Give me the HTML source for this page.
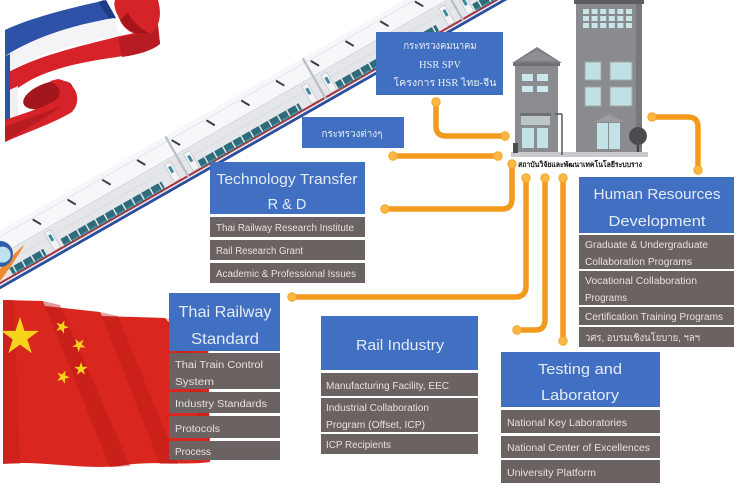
<!DOCTYPE html>
<html><head><meta charset="utf-8"><style>
html,body{margin:0;padding:0;background:#fff;}
svg{display:block;}
text{font-family:"Liberation Sans","DejaVu Sans",sans-serif;}
.t{fill:#e4ebf6;text-anchor:middle;}
.r{fill:#e6e2e0;font-size:10px;}
.th{font-family:"Liberation Serif","DejaVu Serif",serif;fill:#e8eef8;text-anchor:middle;font-size:10px;}
</style></head><body>
<svg width="740" height="493" viewBox="0 0 740 493" xmlns="http://www.w3.org/2000/svg">
<defs>
<pattern id="win" width="10.5" height="8" patternUnits="userSpaceOnUse"><rect x="0" y="0" width="9" height="8" fill="#2e6b7b"/><rect x="1" y="1" width="7" height="2" fill="#4a8d9c"/></pattern>
</defs>
<rect width="740" height="493" fill="#fff"/>

<!-- TRAIN -->
<g transform="translate(20,277) rotate(-29.7)">
  <path d="M-70,-50 H600 V-2 H-70 Z" fill="#eceef1"/>
  <rect x="-70" y="-50" width="670" height="21" fill="#f6f7f9"/>
  <line x1="-70" y1="-45" x2="600" y2="-45" stroke="#e2e5e9" stroke-width="1"/>
  <line x1="-70" y1="-29" x2="600" y2="-29" stroke="#d3d6db" stroke-width="1"/>
  <rect x="-70" y="-28" width="670" height="24" fill="#e4e6ea"/>
  <line x1="-70" y1="-20" x2="600" y2="-20" stroke="#d8dbe0" stroke-width="0.8"/>
  <rect x="-70" y="-5.5" width="670" height="2" fill="#a8323c"/>
  <rect x="-70" y="-2" width="670" height="2.8" fill="#2b4f9e"/>
  <rect x="-5" y="-13" width="39" height="8" fill="url(#win)"/>
  <rect x="54" y="-13" width="116" height="8" fill="url(#win)"/>
  <rect x="212" y="-13" width="116" height="8" fill="url(#win)"/>
  <rect x="370" y="-13" width="116" height="8" fill="url(#win)"/>
  <rect x="528" y="-13" width="70" height="8" fill="url(#win)"/>
  <g fill="#f3f4f6" stroke="#c4c8ce" stroke-width="0.8">
    <rect x="43" y="-26" width="7" height="20"/><rect x="181" y="-26" width="7" height="20"/>
    <rect x="203" y="-26" width="7" height="20"/><rect x="339" y="-26" width="7" height="20"/>
    <rect x="361" y="-26" width="7" height="20"/><rect x="497" y="-26" width="7" height="20"/>
    <rect x="519" y="-26" width="7" height="20"/>
  </g>
  <g fill="#3d8aa0">
    <rect x="45" y="-22" width="3" height="7"/><rect x="183" y="-22" width="3" height="7"/>
    <rect x="205" y="-22" width="3" height="7"/><rect x="341" y="-22" width="3" height="7"/>
    <rect x="363" y="-22" width="3" height="7"/><rect x="499" y="-22" width="3" height="7"/>
    <rect x="521" y="-22" width="3" height="7"/>
  </g>
  <g stroke="#b9bec5" stroke-width="2.2">
    <line x1="196" y1="-50" x2="196" y2="-3"/><line x1="354" y1="-50" x2="354" y2="-3"/><line x1="512" y1="-50" x2="512" y2="-3"/>
  </g>
  <g stroke="#3a3f45" stroke-width="2" stroke-linecap="round">
    <line x1="40" y1="-43" x2="44" y2="-36"/><line x1="80" y1="-43" x2="84" y2="-36"/>
    <line x1="120" y1="-43" x2="124" y2="-36"/><line x1="160" y1="-43" x2="164" y2="-36"/>
    <line x1="200" y1="-43" x2="204" y2="-36"/><line x1="240" y1="-43" x2="244" y2="-36"/>
    <line x1="280" y1="-43" x2="284" y2="-36"/><line x1="320" y1="-43" x2="324" y2="-36"/>
    <line x1="360" y1="-43" x2="364" y2="-36"/><line x1="400" y1="-43" x2="404" y2="-36"/>
    <line x1="440" y1="-43" x2="444" y2="-36"/><line x1="480" y1="-43" x2="484" y2="-36"/>
    <line x1="520" y1="-43" x2="524" y2="-36"/><line x1="560" y1="-43" x2="564" y2="-36"/>
  </g>
  <path d="M-40,-6 Q-10,-20 20,-26 Q0,-14 -30,-2 Z" fill="#f08a2c"/>
  <circle cx="-6" cy="-30" r="13" fill="#2f5fa8"/>
  <circle cx="-4" cy="-28" r="8" fill="#bfe2ee"/>
</g>

<!-- THAI FLAG RIBBON -->
<g>
  <path d="M5,30 C30,18 70,8 98,2 L104,0 L114,18 C80,24 40,34 5,56 Z" fill="#2d52a8"/>
  <path d="M98,2 L106,0 L116,18 L110,20 Z" fill="#1e3c86"/>
  <path d="M5,56 C40,34 80,24 114,18 L120,36 C80,42 40,52 5,74 Z" fill="#f4f4f6"/>
  <path d="M5,74 C40,54 90,44 120,36 C135,33 150,30 158,24 L160,44 C150,52 130,55 110,58 C70,64 40,72 18,88 L5,96 Z" fill="#d6232a"/>
  <path d="M118,38 C135,34 150,32 158,26 L160,44 C150,52 135,55 122,57 Z" fill="#b71c22"/>
  <path d="M115,0 L158,0 C162,14 160,28 150,34 C136,38 124,30 120,20 C116,12 113,6 115,0 Z" fill="#d42329"/>
  <path d="M120,20 C126,30 136,36 150,34 C140,28 132,22 128,12 Z" fill="#a5151b"/>
  <path d="M5,92 L18,86 L18,124 L5,128 Z" fill="#f0f0f2"/>
  <path d="M5,56 L10,54 L10,126 L5,128 Z" fill="#2d52a8"/>
  <ellipse cx="48" cy="95" rx="26" ry="12" transform="rotate(-20 48 95)" fill="#a3161c"/>
  <path d="M58,79 C78,83 82,101 72,112 C52,124 27,132 5,142 L5,120 C25,113 45,107 56,100 C63,94 60,86 50,81 Z" fill="#d6232a"/>
  <path d="M5,127 C25,119 45,113 62,105 C50,117 27,127 5,142 Z" fill="#b81c22"/>
</g>

<!-- CHINA FLAG -->
<g>
  <path d="M3,300 L43,301 L45,306 L100,312 L102,316 L165,318 L168,322 L208,322 L210,462 C180,466 150,460 120,466 C80,470 40,460 3,464 Z" fill="#d9261e"/>
  <path d="M43,301 L60,305 L130,466 L110,467 Z" fill="#b81a17" opacity="0.45"/>
  <path d="M100,312 L118,316 L178,464 L160,464 Z" fill="#b81a17" opacity="0.4"/>
  <path d="M165,318 L180,322 L210,420 L210,450 Z" fill="#b81a17" opacity="0.35"/>
  <path d="M3,300 L14,300 L20,464 L3,464 Z" fill="#c21d19" opacity="0.4"/>
  <g fill="#f8d31c">
    <polygon transform="translate(20,337) scale(20)" points="0,-1 0.2245,-0.309 0.951,-0.309 0.363,0.118 0.588,0.809 0,0.382 -0.588,0.809 -0.363,0.118 -0.951,-0.309 -0.2245,-0.309"/>
    <polygon transform="translate(62,327) scale(7) rotate(20)" points="0,-1 0.2245,-0.309 0.951,-0.309 0.363,0.118 0.588,0.809 0,0.382 -0.588,0.809 -0.363,0.118 -0.951,-0.309 -0.2245,-0.309"/>
    <polygon transform="translate(79,345) scale(7) rotate(40)" points="0,-1 0.2245,-0.309 0.951,-0.309 0.363,0.118 0.588,0.809 0,0.382 -0.588,0.809 -0.363,0.118 -0.951,-0.309 -0.2245,-0.309"/>
    <polygon transform="translate(81,369) scale(7)" points="0,-1 0.2245,-0.309 0.951,-0.309 0.363,0.118 0.588,0.809 0,0.382 -0.588,0.809 -0.363,0.118 -0.951,-0.309 -0.2245,-0.309"/>
    <polygon transform="translate(63,377) scale(7) rotate(20)" points="0,-1 0.2245,-0.309 0.951,-0.309 0.363,0.118 0.588,0.809 0,0.382 -0.588,0.809 -0.363,0.118 -0.951,-0.309 -0.2245,-0.309"/>
  </g>
</g>

<!-- BUILDINGS -->
<g>
  <polygon points="512,63 537,47 562,63" fill="#7c7d81"/>
  <polygon points="517,61 537,50 557,61" fill="#8e8f93"/>
  <rect x="515" y="63" width="43" height="89" fill="#8b8c90"/>
  <rect x="513" y="63" width="47" height="3" fill="#6f7074"/>
  <g fill="#cde8ec"><rect x="522" y="74" width="11" height="7"/><rect x="537" y="74" width="11" height="7"/><rect x="522" y="86" width="11" height="6"/><rect x="537" y="86" width="11" height="6"/></g>
  <rect x="520" y="113" width="31" height="3" fill="#6f7074"/>
  <rect x="521" y="116" width="29" height="9" fill="#bcc6c9"/>
  <g fill="#c3e2e6"><rect x="522" y="128" width="12" height="20"/><rect x="537" y="128" width="11" height="20"/></g>
  <rect x="576" y="0" width="66" height="152" fill="#8a8b8f"/>
  <rect x="636" y="0" width="6" height="152" fill="#77787c"/>
  <rect x="574" y="0" width="70" height="4" fill="#5c5d61"/>
  <g fill="#c8e6ea">
    <rect x="583" y="9" width="6" height="5"/><rect x="591.6" y="9" width="6" height="5"/><rect x="600.2" y="9" width="6" height="5"/><rect x="608.8" y="9" width="6" height="5"/><rect x="617.4" y="9" width="6" height="5"/><rect x="626" y="9" width="6" height="5"/>
    <rect x="583" y="16" width="6" height="5"/><rect x="591.6" y="16" width="6" height="5"/><rect x="600.2" y="16" width="6" height="5"/><rect x="608.8" y="16" width="6" height="5"/><rect x="617.4" y="16" width="6" height="5"/><rect x="626" y="16" width="6" height="5"/>
    <rect x="583" y="23" width="6" height="5"/><rect x="591.6" y="23" width="6" height="5"/><rect x="600.2" y="23" width="6" height="5"/><rect x="608.8" y="23" width="6" height="5"/><rect x="617.4" y="23" width="6" height="5"/><rect x="626" y="23" width="6" height="5"/>
  </g>
  <g fill="#bfe1e6" stroke="#a4a6aa" stroke-width="1"><rect x="585" y="62" width="16" height="18"/><rect x="610" y="62" width="22" height="18"/><rect x="585" y="87" width="16" height="19"/><rect x="610" y="87" width="22" height="19"/></g>
  <polygon points="594,122 609,114 624,122" fill="#9c9da1"/>
  <rect x="597" y="123" width="23" height="26" fill="#c2e2e6"/>
  <line x1="608.5" y1="123" x2="608.5" y2="149" stroke="#8a8b8f" stroke-width="1"/>
  <rect x="511" y="152" width="137" height="5" fill="#c9cbcf"/>
  <rect x="637" y="138" width="2" height="14" fill="#444"/>
  <circle cx="638" cy="136" r="9" fill="#4a4c50"/>
  <line x1="562" y1="114" x2="562" y2="155" stroke="#555" stroke-width="1.5"/>
  <line x1="555" y1="114" x2="562" y2="114" stroke="#555" stroke-width="1.5"/>
  <rect x="513" y="143" width="5" height="10" fill="#4a4c50"/>
</g>
<text x="518" y="167" font-size="7.5" font-weight="bold" fill="#111" textLength="124" lengthAdjust="spacingAndGlyphs">สถาบันวิจัยและพัฒนาเทคโนโลยีระบบราง</text>

<!-- TOP BLUE BOXES -->
<rect x="376" y="32" width="127" height="63" fill="#4170c2"/>
<text class="th" x="440" y="49" textLength="73" lengthAdjust="spacingAndGlyphs">กระทรวงคมนาคม</text>
<text class="th" x="440" y="68" textLength="42" lengthAdjust="spacingAndGlyphs">HSR SPV</text>
<text class="th" x="445" y="86" textLength="103" lengthAdjust="spacingAndGlyphs">โครงการ HSR ไทย-จีน</text>
<rect x="302" y="117" width="102" height="31" fill="#4170c2"/>
<text class="th" x="352" y="137" textLength="61" lengthAdjust="spacingAndGlyphs">กระทรวงต่างๆ</text>

<!-- TECHNOLOGY TRANSFER -->
<rect x="210" y="162" width="155" height="52" fill="#4170c2"/>
<text class="t" x="287" y="184" font-size="14.5" textLength="141" lengthAdjust="spacingAndGlyphs">Technology Transfer</text>
<text class="t" x="287" y="209" font-size="14.5">R &amp; D</text>
<rect x="210" y="217" width="155" height="20" fill="#6a6361"/>
<rect x="210" y="240" width="155" height="20" fill="#6a6361"/>
<rect x="210" y="263" width="155" height="20" fill="#6a6361"/>
<text class="r" x="216" y="231" textLength="138" lengthAdjust="spacingAndGlyphs">Thai Railway Research Institute</text>
<text class="r" x="216" y="254" textLength="87" lengthAdjust="spacingAndGlyphs">Rail Research Grant</text>
<text class="r" x="216" y="277" textLength="140" lengthAdjust="spacingAndGlyphs">Academic &amp; Professional Issues</text>

<!-- THAI RAILWAY STANDARD -->
<rect x="169" y="293" width="111" height="58" fill="#4170c2"/>
<text class="t" x="225" y="317" font-size="16" textLength="93" lengthAdjust="spacingAndGlyphs">Thai Railway</text>
<text class="t" x="225" y="344" font-size="16" textLength="68" lengthAdjust="spacingAndGlyphs">Standard</text>
<rect x="169" y="353" width="111" height="36" fill="#6a6361"/>
<rect x="169" y="392" width="111" height="21" fill="#6a6361"/>
<rect x="169" y="416" width="111" height="22" fill="#6a6361"/>
<rect x="169" y="441" width="111" height="19" fill="#6a6361"/>
<text class="r" x="175" y="368" textLength="88" lengthAdjust="spacingAndGlyphs">Thai Train Control</text>
<text class="r" x="175" y="385" textLength="39" lengthAdjust="spacingAndGlyphs">System</text>
<text class="r" x="175" y="407" textLength="92" lengthAdjust="spacingAndGlyphs">Industry Standards</text>
<text class="r" x="175" y="432" textLength="45" lengthAdjust="spacingAndGlyphs">Protocols</text>
<text class="r" x="175" y="455" textLength="36" lengthAdjust="spacingAndGlyphs">Process</text>

<!-- RAIL INDUSTRY -->
<rect x="321" y="316" width="157" height="54" fill="#4170c2"/>
<text class="t" x="400" y="350" font-size="14.5" textLength="88" lengthAdjust="spacingAndGlyphs">Rail Industry</text>
<rect x="321" y="373" width="157" height="23" fill="#6a6361"/>
<rect x="321" y="398" width="157" height="34" fill="#6a6361"/>
<rect x="321" y="434" width="157" height="20" fill="#6a6361"/>
<text class="r" x="326" y="389" textLength="123" lengthAdjust="spacingAndGlyphs">Manufacturing Facility, EEC</text>
<text class="r" x="326" y="411" textLength="103" lengthAdjust="spacingAndGlyphs">Industrial Collaboration</text>
<text class="r" x="326" y="428" textLength="99" lengthAdjust="spacingAndGlyphs">Program (Offset, ICP)</text>
<text class="r" x="326" y="448" textLength="65" lengthAdjust="spacingAndGlyphs">ICP Recipients</text>

<!-- TESTING AND LABORATORY -->
<rect x="501" y="352" width="159" height="55" fill="#4170c2"/>
<text class="t" x="580" y="374" font-size="15" textLength="84" lengthAdjust="spacingAndGlyphs">Testing and</text>
<text class="t" x="580" y="400" font-size="15" textLength="78" lengthAdjust="spacingAndGlyphs">Laboratory</text>
<rect x="501" y="410" width="159" height="23" fill="#6a6361"/>
<rect x="501" y="436" width="159" height="22" fill="#6a6361"/>
<rect x="501" y="460" width="159" height="23" fill="#6a6361"/>
<text class="r" x="507" y="426" textLength="120" lengthAdjust="spacingAndGlyphs">National Key Laboratories</text>
<text class="r" x="507" y="451" textLength="143" lengthAdjust="spacingAndGlyphs">National Center of Excellences</text>
<text class="r" x="507" y="476" textLength="89" lengthAdjust="spacingAndGlyphs">University Platform</text>

<!-- HUMAN RESOURCES DEVELOPMENT -->
<rect x="579" y="177" width="155" height="56" fill="#4170c2"/>
<text class="t" x="657" y="199" font-size="15" textLength="127" lengthAdjust="spacingAndGlyphs">Human Resources</text>
<text class="t" x="657" y="226" font-size="15" textLength="97" lengthAdjust="spacingAndGlyphs">Development</text>
<rect x="579" y="235" width="155" height="34" fill="#6a6361"/>
<rect x="579" y="271" width="155" height="34" fill="#6a6361"/>
<rect x="579" y="307" width="155" height="18" fill="#6a6361"/>
<rect x="579" y="327" width="155" height="20" fill="#6a6361"/>
<text class="r" x="585" y="248" textLength="123" lengthAdjust="spacingAndGlyphs">Graduate &amp; Undergraduate</text>
<text class="r" x="585" y="265" textLength="107" lengthAdjust="spacingAndGlyphs">Collaboration Programs</text>
<text class="r" x="585" y="284" textLength="112" lengthAdjust="spacingAndGlyphs">Vocational Collaboration</text>
<text class="r" x="585" y="301" textLength="42" lengthAdjust="spacingAndGlyphs">Programs</text>
<text class="r" x="585" y="320" textLength="138" lengthAdjust="spacingAndGlyphs">Certification Training Programs</text>
<text class="r" x="585" y="341" textLength="115" lengthAdjust="spacingAndGlyphs">วศร, อบรมเชิงนโยบาย, ฯลฯ</text>

<!-- ORANGE CONNECTORS -->
<g fill="none" stroke="#f39a1e" stroke-width="5.5" stroke-linecap="round" stroke-linejoin="round">
  <path d="M436,102 V126 Q436,136 446,136 H505"/>
  <path d="M393,156 H498"/>
  <path d="M512,164 V199 Q512,209 502,209 H385"/>
  <path d="M652,117 H688 Q698,117 698,127 V170"/>
  <path d="M526,178 V286 Q526,297 515,297 H292"/>
  <path d="M545,178 V320 Q545,330 535,330 H517"/>
  <path d="M563,178 V341"/>
</g>
<g fill="#fbb845" stroke="#f6a52a" stroke-width="1">
  <circle cx="436" cy="102" r="4.2"/><circle cx="505" cy="136" r="4.2"/>
  <circle cx="393" cy="156" r="4.2"/><circle cx="498" cy="156" r="4.2"/>
  <circle cx="512" cy="164" r="4.2"/><circle cx="385" cy="209" r="4.2"/>
  <circle cx="652" cy="117" r="4.2"/><circle cx="698" cy="170" r="4.2"/>
  <circle cx="526" cy="178" r="4.2"/><circle cx="292" cy="297" r="4.2"/>
  <circle cx="545" cy="178" r="4.2"/><circle cx="517" cy="330" r="4.2"/>
  <circle cx="563" cy="178" r="4.2"/><circle cx="563" cy="341" r="4.2"/>
</g>
</svg>
</body></html>
